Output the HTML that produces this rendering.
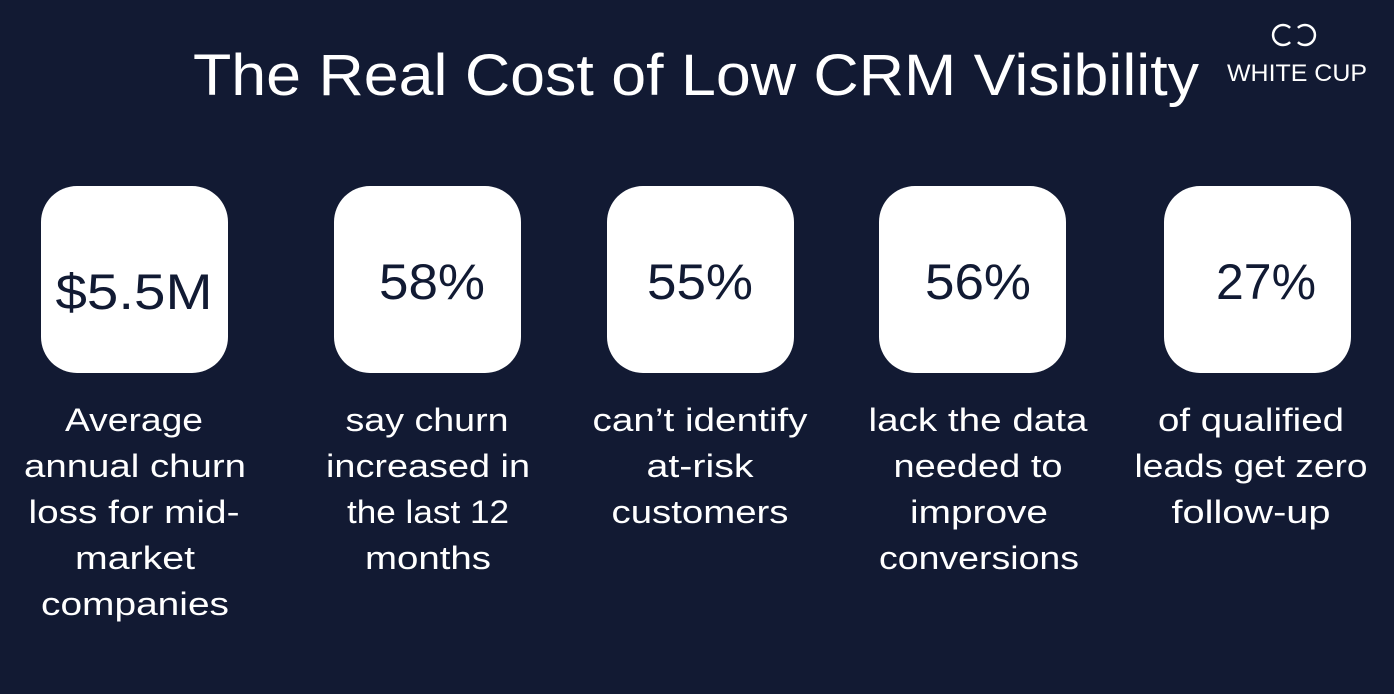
<!DOCTYPE html>
<html><head><meta charset="utf-8"><style>
html,body{margin:0;padding:0;background:#121a33;}
svg{display:block;}
text{font-family:"Liberation Sans",sans-serif;}
</style></head><body>
<svg width="1394" height="694" viewBox="0 0 1394 694" xmlns="http://www.w3.org/2000/svg">
<rect width="1394" height="694" fill="#121a33"/>
<text x="193" y="95" font-size="58" fill="#fff" textLength="1006" lengthAdjust="spacingAndGlyphs">The Real Cost of Low CRM Visibility</text>
<g fill="none" stroke="#fff" stroke-width="2.5">
<path d="M1290.1 27.9 A10 10 0 1 0 1290.1 42.1"/>
<path d="M1297.9 27.9 A10 10 0 1 1 1297.9 42.1"/>
</g>
<text x="1297" y="81" font-size="24" fill="#fff" text-anchor="middle" textLength="140" lengthAdjust="spacingAndGlyphs">WHITE CUP</text>
<g fill="#fff">
<rect x="41" y="186" width="187" height="187" rx="36"/>
<rect x="334" y="186" width="187" height="187" rx="36"/>
<rect x="607" y="186" width="187" height="187" rx="36"/>
<rect x="879" y="186" width="187" height="187" rx="36"/>
<rect x="1164" y="186" width="187" height="187" rx="36"/>
</g>
<g fill="#111a33" font-size="50" text-anchor="middle">
<text x="134" y="309" textLength="157" lengthAdjust="spacingAndGlyphs">$5.5M</text>
<text x="432" y="299" textLength="106" lengthAdjust="spacingAndGlyphs">58%</text>
<text x="700" y="299" textLength="106" lengthAdjust="spacingAndGlyphs">55%</text>
<text x="978" y="299" textLength="106" lengthAdjust="spacingAndGlyphs">56%</text>
<text x="1266" y="299" textLength="100" lengthAdjust="spacingAndGlyphs">27%</text>
</g>
<g fill="#fff" font-size="32" text-anchor="middle">
<text x="134" y="431" textLength="138" lengthAdjust="spacingAndGlyphs">Average</text>
<text x="135" y="477" textLength="222" lengthAdjust="spacingAndGlyphs">annual churn</text>
<text x="134" y="523" textLength="211" lengthAdjust="spacingAndGlyphs">loss for mid-</text>
<text x="135" y="569" textLength="120" lengthAdjust="spacingAndGlyphs">market</text>
<text x="135" y="615" textLength="188" lengthAdjust="spacingAndGlyphs">companies</text>
<text x="427" y="431" textLength="163" lengthAdjust="spacingAndGlyphs">say churn</text>
<text x="428" y="477" textLength="204" lengthAdjust="spacingAndGlyphs">increased in</text>
<text x="428" y="523" textLength="162" lengthAdjust="spacingAndGlyphs">the last 12</text>
<text x="428" y="569" textLength="126" lengthAdjust="spacingAndGlyphs">months</text>
<text x="700" y="431" textLength="215" lengthAdjust="spacingAndGlyphs">can’t identify</text>
<text x="700" y="477" textLength="107" lengthAdjust="spacingAndGlyphs">at-risk</text>
<text x="700" y="523" textLength="177" lengthAdjust="spacingAndGlyphs">customers</text>
<text x="978" y="431" textLength="219" lengthAdjust="spacingAndGlyphs">lack the data</text>
<text x="978" y="477" textLength="169" lengthAdjust="spacingAndGlyphs">needed to</text>
<text x="979" y="523" textLength="138" lengthAdjust="spacingAndGlyphs">improve</text>
<text x="979" y="569" textLength="200" lengthAdjust="spacingAndGlyphs">conversions</text>
<text x="1251" y="431" textLength="186" lengthAdjust="spacingAndGlyphs">of qualified</text>
<text x="1251" y="477" textLength="233" lengthAdjust="spacingAndGlyphs">leads get zero</text>
<text x="1251" y="523" textLength="159" lengthAdjust="spacingAndGlyphs">follow-up</text>
</g>
</svg>
</body></html>
